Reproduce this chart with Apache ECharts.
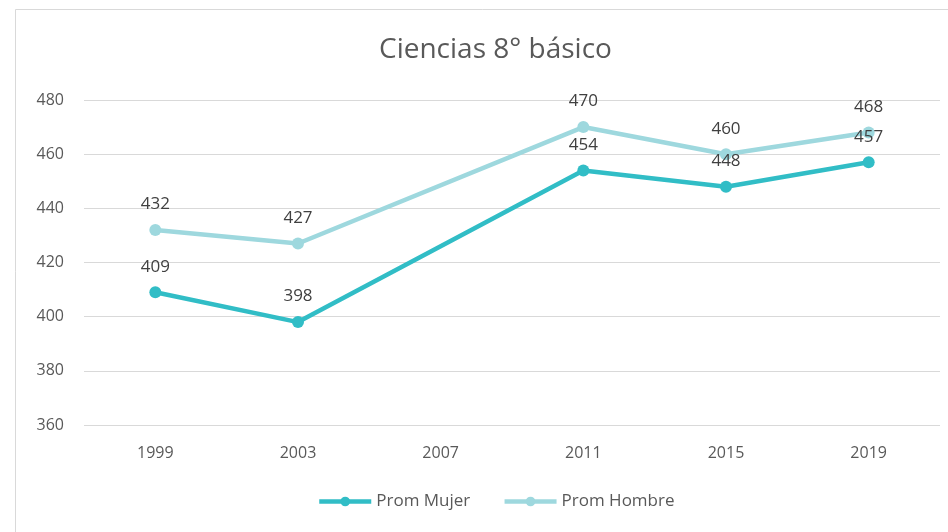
<!DOCTYPE html>
<html>
<head>
<meta charset="utf-8">
<script src="https://cdn.jsdelivr.net/npm/echarts@6/dist/echarts.min.js"></script>
<style>
  html, body { margin: 0; padding: 0; background: #fff; }
  #chart { width: 948px; height: 532px; }
</style>
</head>
<body>
<div id="chart"></div>
<script>
// Years on the category axis
const years = ['1999', '2003', '2007', '2011', '2015', '2019'];
// Average science scores, 8th grade (no measurement in 2007)
const promMujer = [409, 398, null, 454, 448, 457];
const promHombre = [432, 427, null, 470, 460, 468];

const FONT = '"Open Sans", "Noto Sans", sans-serif';
const chart = echarts.init(document.getElementById('chart'));

function lineSeries(name, data, color) {
  return {
    name: name,
    type: 'line',
    data: data,
    connectNulls: true,
    symbol: 'circle',
    symbolSize: 12,
    lineStyle: { width: 4.5, color: color },
    itemStyle: { color: color },
    label: {
      show: true,
      position: 'top',
      distance: 11,
      color: '#404040',
      fontSize: 17,
      fontFamily: FONT
    },
    z: 3
  };
}

chart.setOption({
  animation: false,
  backgroundColor: '#fff',
  title: {
    text: 'Ciencias 8° básico',
    left: 374,
    top: 31,
    textStyle: { color: '#595959', fontSize: 28, fontWeight: 'normal', fontFamily: FONT }
  },
  graphic: [{
    type: 'rect',
    shape: { x: 15.5, y: 9.5, width: 960, height: 560 },
    style: { fill: 'none', stroke: '#d9d9d9', lineWidth: 1 },
    silent: true
  }],
  grid: { left: 84, right: 8, top: 100, bottom: 107 },
  legend: {
    bottom: 17,
    left: 312,
    itemGap: 32,
    itemWidth: 52,
    itemHeight: 12,
    lineStyle: { width: 4.5 },
    textStyle: { color: '#595959', fontSize: 17, fontFamily: FONT },
    data: ['Prom Mujer', 'Prom Hombre']
  },
  xAxis: {
    type: 'category',
    data: years,
    boundaryGap: true,
    axisLine: { show: false },
    axisTick: { show: false },
    axisLabel: { color: '#595959', fontSize: 16, fontFamily: FONT, margin: 20 }
  },
  yAxis: {
    type: 'value',
    min: 360,
    max: 480,
    interval: 20,
    axisLine: { show: false },
    axisTick: { show: false },
    splitLine: { lineStyle: { color: '#d9d9d9', width: 1 } },
    axisLabel: { color: '#595959', fontSize: 16, fontFamily: FONT, margin: 20 }
  },
  series: [
    lineSeries('Prom Mujer', promMujer, '#31bdc6'),
    lineSeries('Prom Hombre', promHombre, '#9ed8de')
  ]
});
</script>
</body>
</html>
